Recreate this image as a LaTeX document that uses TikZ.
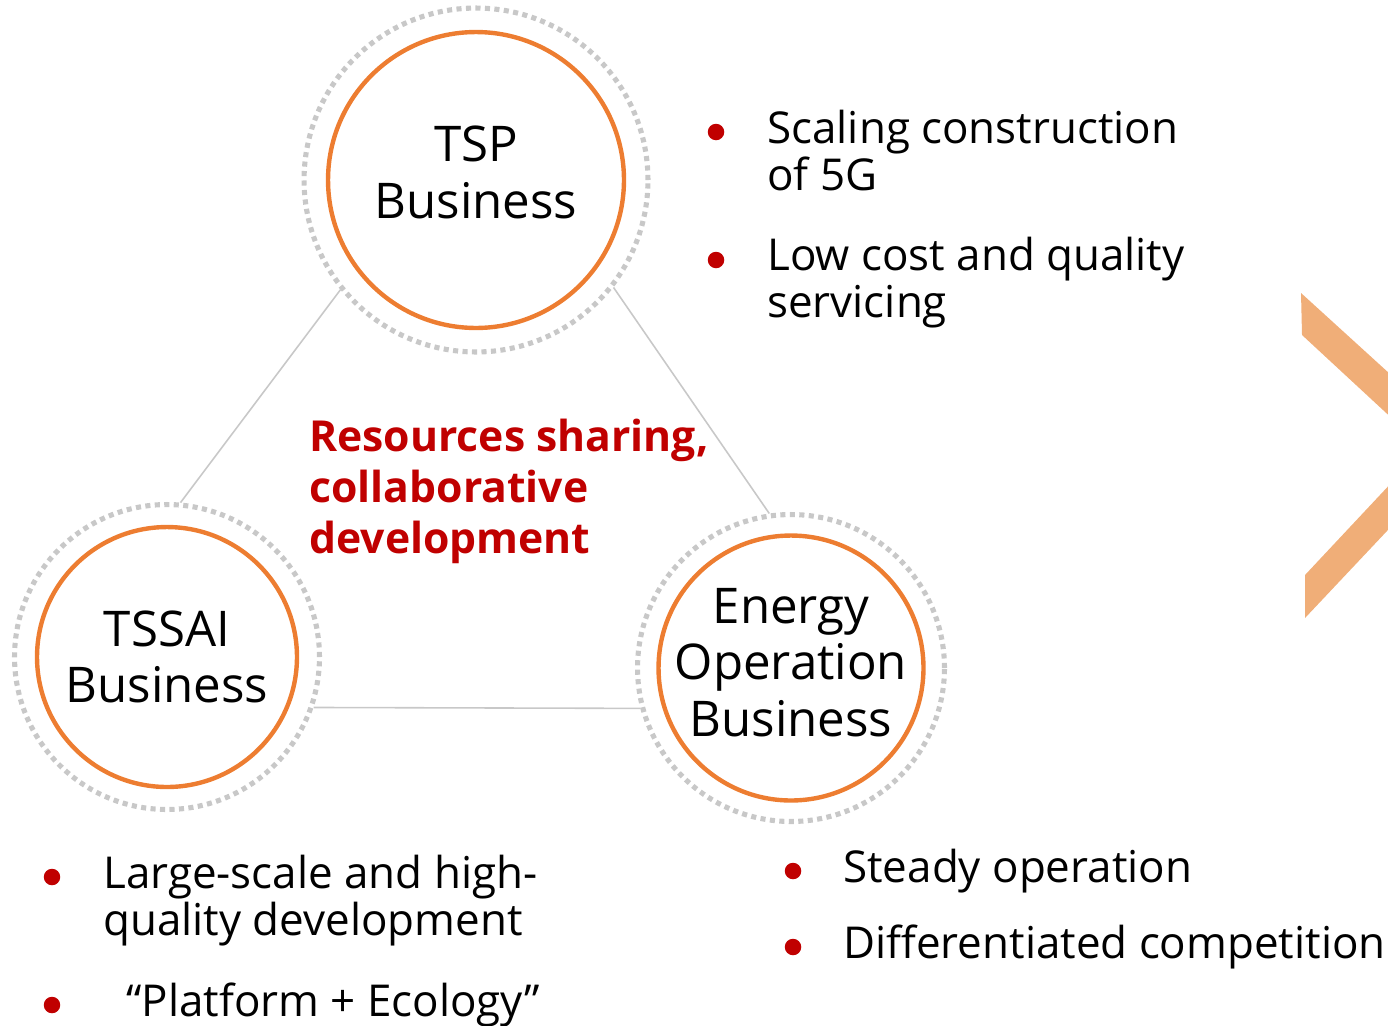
\documentclass[tikz,border=0pt]{standalone}
\usepackage{fontspec}
\setmainfont{Open Sans}
\usepackage{xcolor}
\usepackage{tikz}
\usetikzlibrary{shapes,calc}
\usetikzlibrary{positioning}

\definecolor{ringorange}{HTML}{ED7D31}
\definecolor{dotgray}{HTML}{C8C8C8}
\definecolor{linkgray}{HTML}{C8C8C8}
\definecolor{keyred}{HTML}{C00000}
\definecolor{chevron}{HTML}{F0AE78}

\tikzset{
  biz/.style={circle, draw=ringorange, line width=2.5pt, inner sep=0pt},
  bizname/.style={align=center, inner sep=0pt, font=\fontsize{28}{32.3}\selectfont},
  ring/.style={circle, draw=dotgray, line width=2.9pt, dash pattern=on 2.9pt off 2.5pt, inner sep=0pt},
  link/.style={draw=linkgray, line width=0.9pt},
  dot/.style={circle, fill=keyred, inner sep=0pt, minimum size=0.33cm},
  item/.style={anchor=base west, align=left, inner sep=0pt, font=\fontsize{25}{26.7}\selectfont}
}

\begin{document}
\begin{tikzpicture}[x=0.02cm, y=-0.02cm]
\useasboundingbox (0,0) rectangle (1388,1025);
\clip (0,0) rectangle (1388,1025);

% the three businesses
\node[ring, minimum size=6.88cm] (tsp-ring) at (476,180) {};
\node[biz, minimum size=5.92cm] (tsp) at (476,180) {};
\node[bizname, text depth=9pt] (tsp-name) at (tsp.center) {TSP\\Business};
\node[ring, minimum size=6.1cm] (tssai-ring) at (167,657) {};
\node[biz, minimum size=5.2cm] (tssai) at (167,657) {};
\node[bizname] (tssai-name) at (tssai.center) {TSSAI\\Business};
\node[ring, minimum size=6.14cm] (energy-ring) at (791,668) {};
\node[biz, minimum size=5.3cm] (energy) at (791,668) {};
\node[bizname, text depth=6.5pt] (energy-name) at (energy.center) {Energy\\Operation\\Business};

% links between them
\draw[link] (tsp-ring.219.5) -- (tssai-ring.85);
\draw[link] (tsp-ring.322) -- (energy-ring.98.7);
\draw[link] (tssai-ring.341) -- (energy-ring.195.7);

% centre message (anchored on the last line)
\node[anchor=base west, align=left, inner sep=0pt, text=keyred,
  font=\fontsize{24.3}{29}\selectfont\bfseries] (share) at (309,553)
  {Resources sharing,\\collaborative\\development};

% TSP points
\node[dot] (d1) at (716,132) {};
\node[item] (t1) at (767,190) {Scaling construction\\of 5G};
\node[dot] (d2) at (716,260) {};
\node[item] (t2) at (767,317) {Low cost and quality\\servicing};

% TSSAI points
\node[dot] (d3) at (52,877) {};
\node[item] (t3) at (103,935) {Large-scale and high-\\quality development};
\node[dot] (d4) at (52,1005) {};
\node[item] (t4) at (126,1016) {“Platform + Ecology”};

% energy points
\node[dot] (d5) at (793,871) {};
\node[item] (t5) at (843,882) {Steady operation};
\node[dot] (d6) at (793,947) {};
\node[item] (t6) at (843,958) {Differentiated competition};

% arrow at the right edge
\fill[chevron] (1301,293) -- (1468,445) -- (1305,618) -- (1305,575) -- (1424,448) -- (1302,335) -- cycle;
\end{tikzpicture}
\end{document}
